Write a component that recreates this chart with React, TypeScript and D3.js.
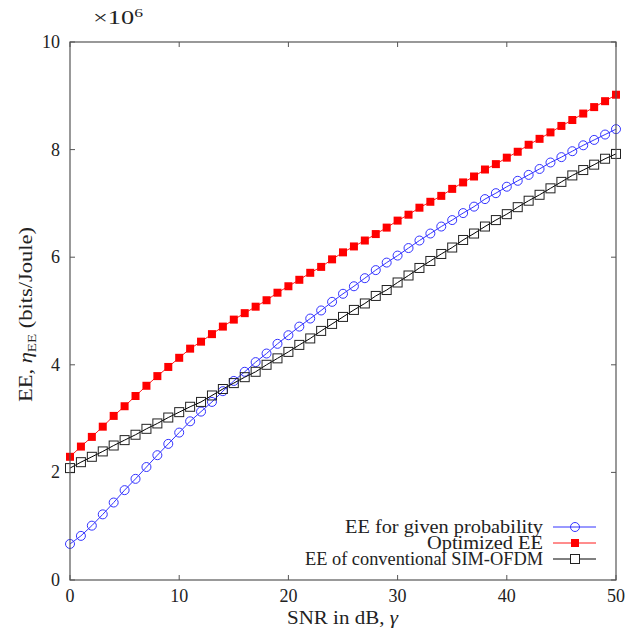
import React from "react";
import * as d3 from "d3";

const snr: number[] = d3.range(0, 51);
const blueVals: number[] = [0.67, 0.82, 1.01, 1.22, 1.44, 1.67, 1.88, 2.10, 2.32, 2.53, 2.74, 2.95, 3.13, 3.31, 3.51, 3.70, 3.87, 4.05, 4.21, 4.39, 4.55, 4.71, 4.86, 5.01, 5.17, 5.32, 5.46, 5.61, 5.76, 5.90, 6.03, 6.17, 6.31, 6.44, 6.57, 6.69, 6.82, 6.94, 7.08, 7.19, 7.31, 7.42, 7.53, 7.64, 7.76, 7.86, 7.97, 8.08, 8.18, 8.28, 8.38];
const redVals: number[] = [2.29, 2.48, 2.66, 2.85, 3.05, 3.23, 3.42, 3.61, 3.79, 3.96, 4.13, 4.30, 4.43, 4.57, 4.71, 4.84, 4.96, 5.08, 5.20, 5.34, 5.46, 5.58, 5.71, 5.82, 5.96, 6.09, 6.20, 6.31, 6.43, 6.55, 6.68, 6.79, 6.92, 7.03, 7.14, 7.27, 7.39, 7.50, 7.63, 7.73, 7.85, 7.96, 8.09, 8.20, 8.32, 8.44, 8.55, 8.67, 8.79, 8.90, 9.02];
const blackVals: number[] = [2.08, 2.19, 2.29, 2.39, 2.50, 2.60, 2.70, 2.81, 2.91, 3.02, 3.12, 3.22, 3.31, 3.43, 3.55, 3.66, 3.77, 3.87, 4.00, 4.12, 4.24, 4.37, 4.49, 4.63, 4.76, 4.89, 5.02, 5.14, 5.28, 5.39, 5.53, 5.66, 5.80, 5.93, 6.06, 6.18, 6.32, 6.44, 6.57, 6.69, 6.80, 6.93, 7.05, 7.16, 7.28, 7.40, 7.52, 7.62, 7.72, 7.83, 7.92];
const xTicks: number[] = [0, 10, 20, 30, 40, 50];
const yTicks: number[] = [0, 2, 4, 6, 8, 10];
const legendLabels: string[] = ["EE for given probability", "Optimized EE", "EE of conventional SIM-OFDM"];

const W = 639, H = 630;
const L = 70, R = 616, T = 42, B = 580;
const FONT = "'Liberation Serif', 'Times New Roman', serif";
const legendWidths = [198, 116, 238];

export default function App() {
  const x = d3.scaleLinear().domain([0, 50]).range([L, R]);
  const y = d3.scaleLinear().domain([0, 10]).range([B, T]);
  const line = d3.line<number>().x((_, i) => x(snr[i])).y((d) => y(d));
  const frame = "#555";
  const blue = "#3333ff";
  const red = "#ff1a1a";
  const tl = 5;
  const legendY = [527, 543, 559];
  return (
    <svg width={W} height={H} style={{ position: "absolute", left: 0, top: 0, background: "#fff" }}>
      <rect x={0} y={0} width={W} height={H} fill="#fff" />
      {xTicks.map((t) => (
        <g key={"x" + t}>
          <line x1={x(t)} x2={x(t)} y1={B} y2={B - tl} stroke={frame} strokeWidth={1} />
          <line x1={x(t)} x2={x(t)} y1={T} y2={T + tl} stroke={frame} strokeWidth={1} />
          <text x={x(t)} y={B + 22} textAnchor="middle" fontFamily={FONT} fontSize={18} fill="#222">{t}</text>
        </g>
      ))}
      {yTicks.map((t) => (
        <g key={"y" + t}>
          <line x1={L} x2={L + tl} y1={y(t)} y2={y(t)} stroke={frame} strokeWidth={1} />
          <line x1={R} x2={R - tl} y1={y(t)} y2={y(t)} stroke={frame} strokeWidth={1} />
          <text x={L - 10} y={y(t) + 6} textAnchor="end" fontFamily={FONT} fontSize={18} fill="#222">{t}</text>
        </g>
      ))}
      <path d={line(blueVals) || ""} fill="none" stroke={blue} strokeWidth={1} />
      {blueVals.map((v, i) => (
        <circle key={"b" + i} cx={x(snr[i])} cy={y(v)} r={4.5} fill="none" stroke={blue} strokeWidth={1} />
      ))}
      <path d={line(redVals) || ""} fill="none" stroke={red} strokeWidth={1} />
      {redVals.map((v, i) => (
        <rect key={"r" + i} x={x(snr[i]) - 4} y={y(v) - 4} width={8} height={8} fill="#ff0000" />
      ))}
      <path d={line(blackVals) || ""} fill="none" stroke="#000" strokeWidth={1} />
      {blackVals.map((v, i) => (
        <rect key={"k" + i} x={x(snr[i]) - 4.5} y={y(v) - 4.5} width={9} height={9} fill="none" stroke="#222" strokeWidth={1} />
      ))}
      <rect x={L} y={T} width={R - L} height={B - T} fill="none" stroke={frame} strokeWidth={1.2} />
      {legendLabels.map((lab, i) => (
        <g key={"l" + i}>
          <text x={543 - legendWidths[i]} y={legendY[i] + 6} textLength={legendWidths[i]} lengthAdjust="spacingAndGlyphs" fontFamily={FONT} fontSize={18} fill="#222">{lab}</text>
          <line x1={553} x2={596} y1={legendY[i]} y2={legendY[i]} stroke={i === 0 ? blue : i === 1 ? red : "#000"} strokeWidth={1} />
          {i === 0 && <circle cx={575} cy={legendY[i]} r={4.5} fill="none" stroke={blue} strokeWidth={1} />}
          {i === 1 && <rect x={571} y={legendY[i] - 4} width={8} height={8} fill="#ff0000" />}
          {i === 2 && <rect x={570.5} y={legendY[i] - 4.5} width={9} height={9} fill="#fff" stroke="#222" strokeWidth={1} />}
        </g>
      ))}
      <text x={287} y={624} textLength={111} lengthAdjust="spacingAndGlyphs" fontFamily={FONT} fontSize={18} fill="#222">
        SNR in dB, <tspan fontStyle="italic">γ</tspan>
      </text>
      <g transform={`translate(32, 402) rotate(-90)`}>
        <text x={0} y={0} textLength={175} lengthAdjust="spacingAndGlyphs" fontFamily={FONT} fontSize={18} fill="#222">
          EE, <tspan fontStyle="italic">η</tspan><tspan fontSize={12} dy={4}>EE</tspan><tspan dy={-4}> (bits/Joule)</tspan>
        </text>
      </g>
      <text x={93} y={24} textLength={50} lengthAdjust="spacingAndGlyphs" fontFamily={FONT} fontSize={18} fill="#222">
        ×10<tspan fontSize={12} dy={-7}>6</tspan>
      </text>
    </svg>
  );
}
